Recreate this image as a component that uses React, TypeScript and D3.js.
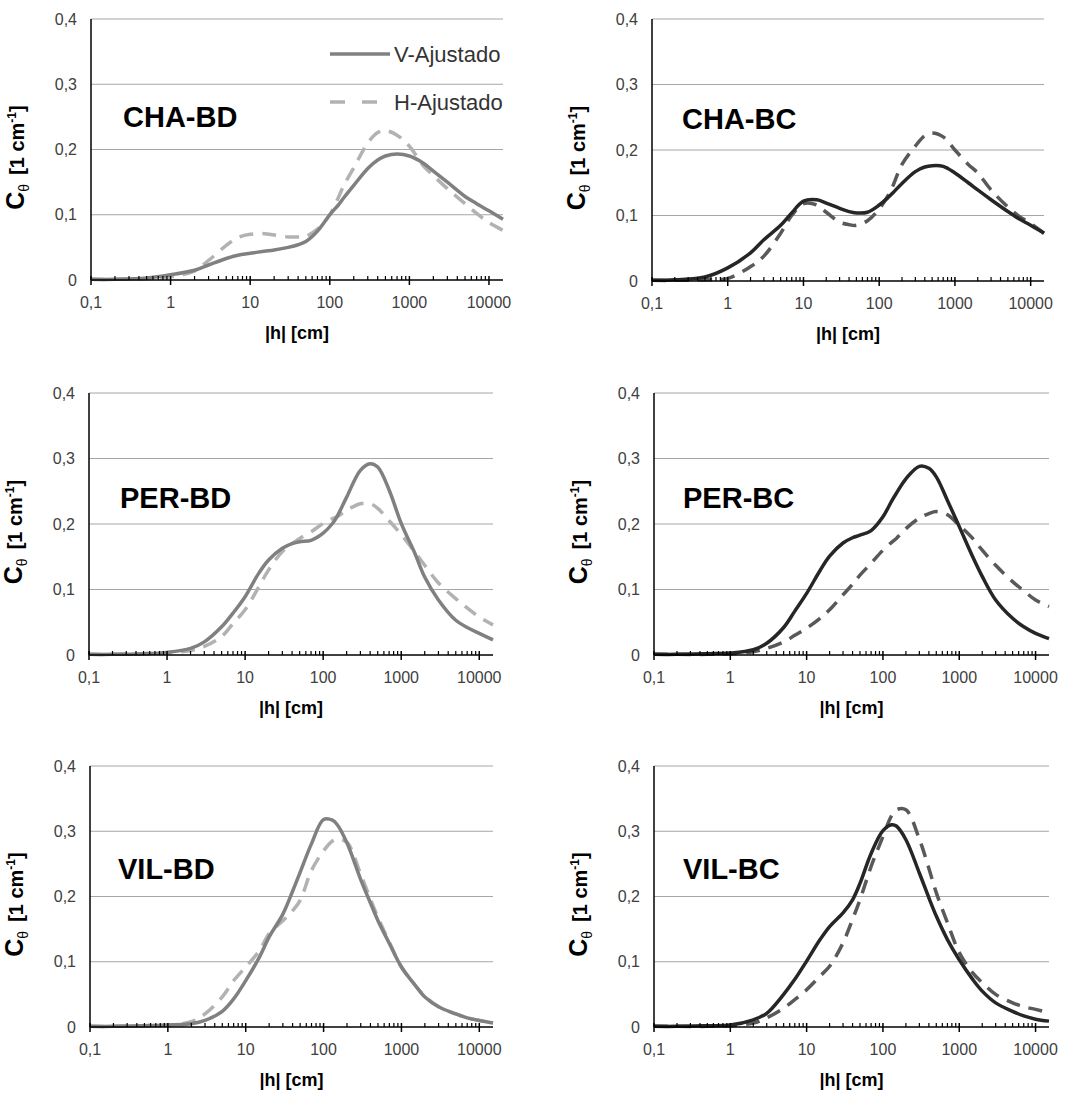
import React from 'react';
import * as d3 from 'd3';

// ---- data ----
const H = [0.1, 0.2, 0.5, 1, 2, 3, 5, 7, 10, 15, 20, 30, 40, 50, 70, 100, 130, 150, 200, 300, 400, 500, 700, 1000, 1500, 2000, 3000, 5000, 7000, 10000, 15000];

const CHA_BD_V = [0.001, 0.001, 0.003, 0.008, 0.015, 0.023, 0.033, 0.038, 0.041, 0.044, 0.046, 0.050, 0.054, 0.059, 0.075, 0.100, 0.116, 0.126, 0.145, 0.171, 0.184, 0.190, 0.193, 0.190, 0.179, 0.167, 0.150, 0.128, 0.117, 0.106, 0.093];
const CHA_BD_H = [0.001, 0.001, 0.002, 0.005, 0.014, 0.030, 0.053, 0.065, 0.070, 0.071, 0.069, 0.066, 0.066, 0.067, 0.078, 0.100, 0.128, 0.145, 0.172, 0.210, 0.226, 0.229, 0.222, 0.205, 0.175, 0.160, 0.140, 0.117, 0.102, 0.088, 0.076];

const CHA_BC_V = [0.001, 0.002, 0.006, 0.020, 0.043, 0.063, 0.085, 0.104, 0.122, 0.124, 0.119, 0.111, 0.106, 0.104, 0.105, 0.116, 0.127, 0.134, 0.149, 0.167, 0.174, 0.176, 0.175, 0.165, 0.150, 0.139, 0.124, 0.106, 0.095, 0.085, 0.073];
const CHA_BC_H = [0.001, 0.001, 0.002, 0.004, 0.022, 0.038, 0.073, 0.100, 0.118, 0.116, 0.105, 0.090, 0.086, 0.085, 0.092, 0.110, 0.130, 0.144, 0.178, 0.206, 0.222, 0.226, 0.220, 0.200, 0.178, 0.165, 0.139, 0.113, 0.099, 0.088, 0.073];

const PER_BD_V = [0.001, 0.001, 0.002, 0.004, 0.010, 0.020, 0.043, 0.064, 0.089, 0.125, 0.145, 0.163, 0.170, 0.173, 0.175, 0.186, 0.200, 0.211, 0.241, 0.282, 0.292, 0.287, 0.252, 0.201, 0.155, 0.119, 0.084, 0.053, 0.042, 0.033, 0.023];
const PER_BD_H = [0.001, 0.001, 0.002, 0.003, 0.007, 0.013, 0.028, 0.048, 0.069, 0.104, 0.130, 0.158, 0.170, 0.178, 0.188, 0.201, 0.208, 0.211, 0.221, 0.231, 0.231, 0.224, 0.205, 0.184, 0.157, 0.137, 0.110, 0.086, 0.072, 0.058, 0.046];

const PER_BC_V = [0.001, 0.001, 0.002, 0.003, 0.008, 0.018, 0.042, 0.067, 0.094, 0.129, 0.151, 0.171, 0.179, 0.183, 0.190, 0.211, 0.235, 0.247, 0.269, 0.288, 0.285, 0.272, 0.236, 0.196, 0.150, 0.120, 0.084, 0.056, 0.043, 0.033, 0.025];
const PER_BC_H = [0.001, 0.001, 0.001, 0.002, 0.005, 0.010, 0.020, 0.030, 0.041, 0.056, 0.069, 0.092, 0.108, 0.122, 0.140, 0.160, 0.172, 0.178, 0.193, 0.209, 0.216, 0.219, 0.214, 0.198, 0.178, 0.160, 0.137, 0.112, 0.098, 0.084, 0.074];

const VIL_BD_V = [0.001, 0.001, 0.002, 0.003, 0.005, 0.010, 0.024, 0.043, 0.071, 0.107, 0.138, 0.173, 0.208, 0.237, 0.281, 0.318, 0.317, 0.310, 0.282, 0.226, 0.190, 0.163, 0.128, 0.092, 0.064, 0.046, 0.031, 0.020, 0.014, 0.010, 0.006];
const VIL_BD_H = [0.001, 0.001, 0.002, 0.003, 0.008, 0.020, 0.046, 0.071, 0.092, 0.117, 0.143, 0.163, 0.178, 0.194, 0.240, 0.270, 0.285, 0.288, 0.283, 0.234, 0.196, 0.168, 0.130, 0.092, 0.064, 0.047, 0.031, 0.020, 0.014, 0.010, 0.006];

const VIL_BC_V = [0.001, 0.001, 0.002, 0.003, 0.011, 0.021, 0.050, 0.073, 0.101, 0.134, 0.154, 0.175, 0.195, 0.220, 0.266, 0.301, 0.310, 0.308, 0.287, 0.236, 0.198, 0.170, 0.134, 0.103, 0.073, 0.055, 0.037, 0.024, 0.017, 0.012, 0.009];
const VIL_BC_H = [0.001, 0.001, 0.001, 0.002, 0.006, 0.014, 0.029, 0.042, 0.057, 0.078, 0.093, 0.129, 0.165, 0.195, 0.246, 0.292, 0.324, 0.333, 0.333, 0.288, 0.243, 0.206, 0.160, 0.114, 0.083, 0.068, 0.050, 0.037, 0.031, 0.027, 0.022];

const PANEL_NAMES = ['CHA-BD', 'CHA-BC', 'PER-BD', 'PER-BC', 'VIL-BD', 'VIL-BC'];
const PANEL_V = [CHA_BD_V, CHA_BC_V, PER_BD_V, PER_BC_V, VIL_BD_V, VIL_BC_V];
const PANEL_H = [CHA_BD_H, CHA_BC_H, PER_BD_H, PER_BC_H, VIL_BD_H, VIL_BC_H];
const SERIES_NAMES = ['V-Ajustado', 'H-Ajustado'];

const X_TICKS = [0.1, 1, 10, 100, 1000, 10000];
const X_TICK_LABELS = ['0,1', '1', '10', '100', '1000', '10000'];
const Y_TICKS = [0, 0.1, 0.2, 0.3, 0.4];
const Y_TICK_LABELS = ['0', '0,1', '0,2', '0,3', '0,4'];
const X_DOMAIN = [0.1, 15000];
const Y_DOMAIN = [0, 0.4];

// ---- layout ----
const LAYOUT = [
  { L: 91, R: 503, T: 19, B: 280, titleX: 123, titleY: 127 },
  { L: 652, R: 1044, T: 19, B: 281, titleX: 682, titleY: 129 },
  { L: 89, R: 493, T: 393, B: 655, titleX: 120, titleY: 508 },
  { L: 654, R: 1049, T: 393, B: 655, titleX: 683, titleY: 508 },
  { L: 90, R: 493, T: 766, B: 1027, titleX: 118, titleY: 879 },
  { L: 654, R: 1049, T: 766, B: 1027, titleX: 683, titleY: 879 },
];

const FONT = '"Liberation Sans", Arial, Helvetica, sans-serif';
const LEFT_COLORS = { v: '#808080', h: '#b2b2b2' };
const RIGHT_COLORS = { v: '#262626', h: '#595959' };
const DASH = '14,9';

function Panel({ idx }: { idx: number }) {
  const lay = LAYOUT[idx];
  const x = d3.scaleLog().domain(X_DOMAIN).range([lay.L, lay.R]);
  const y = d3.scaleLinear().domain(Y_DOMAIN).range([lay.B, lay.T]);
  const line = d3
    .line<number>()
    .x((_, i) => x(H[i]))
    .y((d) => y(d))
    .curve(d3.curveCatmullRom.alpha(0.5));
  const colors = idx % 2 === 0 ? LEFT_COLORS : RIGHT_COLORS;

  const minor: number[] = [];
  X_TICKS.forEach((d) => {
    for (let m = 2; m <= 9; m++) {
      const v = d * m;
      if (v <= X_DOMAIN[1]) minor.push(v);
    }
  });

  const cx = (lay.L + lay.R) / 2;
  const cy = (lay.T + lay.B) / 2 + 8;
  const ytx = lay.L - 67;

  return (
    <g>
      {Y_TICKS.slice(1).map((t) => (
        <line key={'g' + t} x1={lay.L} x2={lay.R} y1={y(t)} y2={y(t)} stroke="#a6a6a6" strokeWidth={1} />
      ))}
      {Y_TICKS.map((t, i) => (
        <text key={'yl' + t} x={lay.L - 14} y={y(t)} dy="0.35em" textAnchor="end" fontSize={16} fill="#404040" fontFamily={FONT}>
          {Y_TICK_LABELS[i]}
        </text>
      ))}
      <path d={line(PANEL_H[idx]) || ''} fill="none" stroke={colors.h} strokeWidth={3.5} strokeDasharray={DASH} />
      <path d={line(PANEL_V[idx]) || ''} fill="none" stroke={colors.v} strokeWidth={3.5} />
      <line x1={lay.L} x2={lay.L} y1={lay.T} y2={lay.B} stroke="#000" strokeWidth={1.5} />
      <line x1={lay.L} x2={lay.R} y1={lay.B} y2={lay.B} stroke="#000" strokeWidth={1.5} />
      {X_TICKS.map((t) => (
        <line key={'mt' + t} x1={x(t)} x2={x(t)} y1={lay.B - 4} y2={lay.B + 5} stroke="#000" strokeWidth={1.5} />
      ))}
      {minor.map((t) => (
        <line key={'mn' + t} x1={x(t)} x2={x(t)} y1={lay.B - 4} y2={lay.B} stroke="#000" strokeWidth={1.2} />
      ))}
      {X_TICKS.map((t, i) => (
        <text key={'xl' + t} x={x(t)} y={lay.B + 28} textAnchor="middle" fontSize={16} fill="#404040" fontFamily={FONT}>
          {X_TICK_LABELS[i]}
        </text>
      ))}
      <text x={cx} y={lay.B + 59} textAnchor="middle" fontSize={18} fontWeight="bold" fill="#000" fontFamily={FONT}>
        |h| [cm]
      </text>
      <text transform={`translate(${ytx},${cy}) rotate(-90)`} textAnchor="middle" fill="#000" fontFamily={FONT} fontWeight="bold">
        <tspan fontSize={25}>C</tspan>
        <tspan fontSize={14} fontWeight="normal" dy={5}>θ</tspan>
        <tspan fontSize={20} dy={-5} dx={9}>[1 cm</tspan>
        <tspan fontSize={12} dy={-8}>-1</tspan>
        <tspan fontSize={20} dy={8}>]</tspan>
      </text>
      <text x={lay.titleX} y={lay.titleY} fontSize={29} fontWeight="bold" fill="#000" fontFamily={FONT}>
        {PANEL_NAMES[idx]}
      </text>
    </g>
  );
}

function Legend() {
  const items = [
    { name: SERIES_NAMES[0], color: LEFT_COLORS.v, dash: undefined as string | undefined, y: 54 },
    { name: SERIES_NAMES[1], color: LEFT_COLORS.h, dash: '15,17', y: 102 },
  ];
  return (
    <g>
      {items.map((it) => (
        <g key={it.name}>
          <line x1={330} x2={390} y1={it.y} y2={it.y} stroke={it.color} strokeWidth={3.5} strokeDasharray={it.dash} />
          <text x={394} y={it.y} dy="0.36em" fontSize={22} fill="#333" fontFamily={FONT}>
            {it.name}
          </text>
        </g>
      ))}
    </g>
  );
}

export default function App() {
  return (
    <svg width={1090} height={1097} style={{ position: 'absolute', left: 0, top: 0, background: '#fff' }}>
      <rect x={0} y={0} width={1090} height={1097} fill="#fff" />
      {PANEL_NAMES.map((_, i) => (
        <Panel key={i} idx={i} />
      ))}
      <Legend />
    </svg>
  );
}
